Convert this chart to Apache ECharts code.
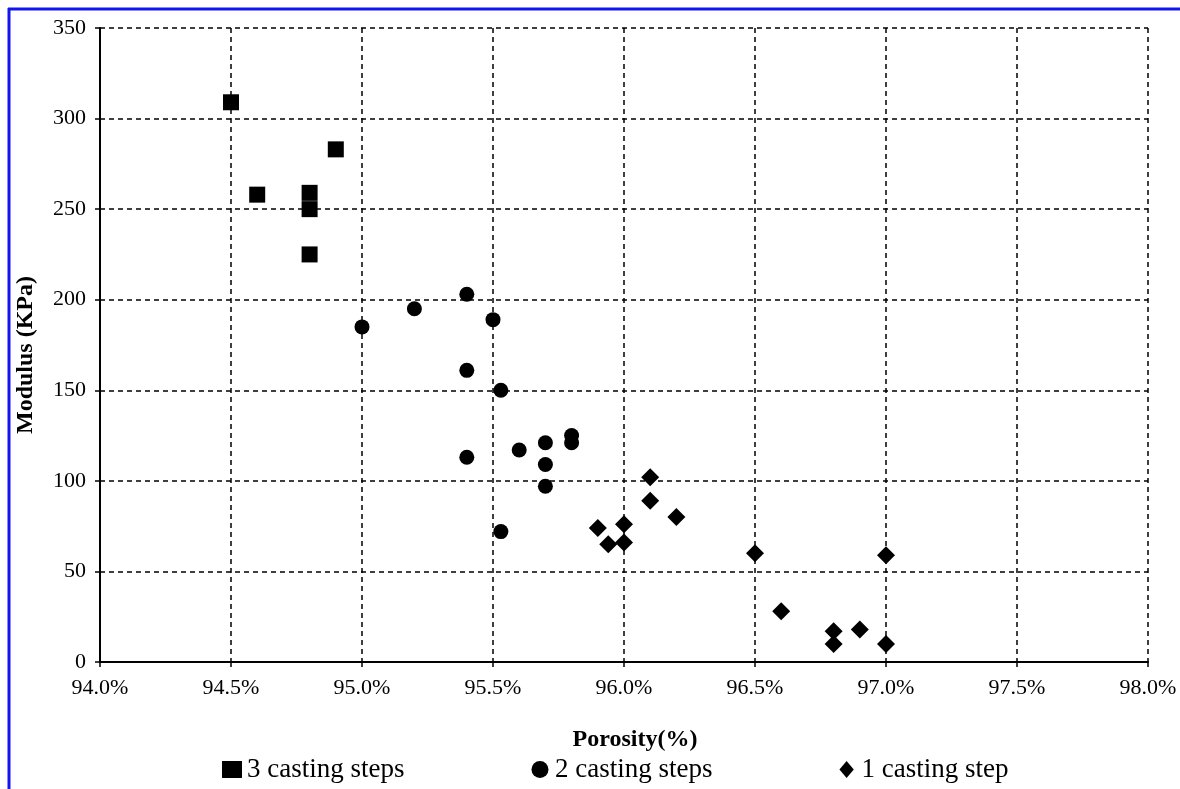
<!DOCTYPE html>
<html lang="en" style="height: 100%">
<head>
<meta charset="utf-8">
<title>Modulus vs Porosity</title>
</head>
<body style="height: 100%; margin: 0; background: #fff">
<div id="container" style="width: 1180px; height: 789px"></div>

<script type="text/javascript" src="https://cdn.jsdelivr.net/npm/echarts@6/dist/echarts.min.js"></script>

<script type="text/javascript">

// [porosity %, modulus KPa]
var threeSteps = [
    [94.5, 309], [94.6, 258], [94.8, 259], [94.8, 250], [94.8, 225], [94.9, 283]
];
var twoSteps = [
    [95.0, 185], [95.2, 195], [95.4, 203], [95.5, 189], [95.4, 161], [95.53, 150],
    [95.4, 113], [95.6, 117], [95.7, 121], [95.7, 109], [95.7, 97], [95.8, 125],
    [95.8, 121], [95.53, 72]
];
var oneStep = [
    [96.1, 102], [96.1, 89], [95.9, 74], [96.0, 76], [95.94, 65], [96.0, 66],
    [96.2, 80], [96.5, 60], [97.0, 59], [96.6, 28], [96.8, 17], [96.8, 10],
    [96.9, 18], [97.0, 10]
];
var seriesNames = ['3 casting steps', '2 casting steps', '1 casting step'];

var font = '"Liberation Serif", "DejaVu Serif", serif';

var dom = document.getElementById('container');
var myChart = echarts.init(dom);

var gridLine = {
    show: true,
    lineStyle: { color: '#000', width: 1.5, type: [5, 4] }
};

var option = {
    backgroundColor: '#fff',
    animation: false,
    textStyle: { fontFamily: font, color: '#000' },
    grid: {
        left: 100,
        right: 32,
        top: 28,
        bottom: 127
    },
    legend: {
        left: 217,
        top: 751,
        itemGap: 127,
        itemWidth: 20,
        itemHeight: 17,
        textStyle: { fontFamily: font, fontSize: 27, color: '#000' },
        data: [
            { name: seriesNames[0], icon: 'rect' },
            { name: seriesNames[1], icon: 'circle' },
            { name: seriesNames[2], icon: 'path://M15,0L31,19L15,38L-1,19Z' }
        ]
    },
    xAxis: {
        type: 'value',
        min: 94,
        max: 98,
        interval: 0.5,
        name: 'Porosity(%)',
        nameLocation: 'middle',
        nameGap: 66,
        nameTextStyle: {
            fontFamily: font, fontSize: 24, fontWeight: 'bold', color: '#000',
            padding: [0, 0, 0, 22]
        },
        axisLine: { show: true, onZero: false, lineStyle: { color: '#000', width: 2 } },
        axisTick: { show: true, inside: false, length: 5, lineStyle: { color: '#000', width: 1.5 } },
        axisLabel: {
            fontFamily: font, fontSize: 22, color: '#000', margin: 15,
            formatter: function (v) { return v.toFixed(1) + '%'; }
        },
        splitLine: gridLine
    },
    yAxis: {
        type: 'value',
        min: 0,
        max: 350,
        interval: 50,
        name: 'Modulus (KPa)',
        nameLocation: 'middle',
        nameGap: 62,
        nameTextStyle: {
            fontFamily: font, fontSize: 24, fontWeight: 'bold', color: '#000',
            padding: [0, 20, 0, 0]
        },
        axisLine: { show: true, lineStyle: { color: '#000', width: 2 } },
        axisTick: { show: true, inside: false, length: 5, lineStyle: { color: '#000', width: 1.5 } },
        axisLabel: { fontFamily: font, fontSize: 22, color: '#000', margin: 14 },
        splitLine: gridLine
    },
    series: [
        {
            name: seriesNames[0],
            type: 'scatter',
            symbol: 'rect',
            symbolSize: 16,
            itemStyle: { color: '#000', opacity: 1 },
            data: threeSteps
        },
        {
            name: seriesNames[1],
            type: 'scatter',
            symbol: 'circle',
            symbolSize: 15,
            itemStyle: { color: '#000', opacity: 1 },
            data: twoSteps
        },
        {
            name: seriesNames[2],
            type: 'scatter',
            symbol: 'diamond',
            symbolSize: 18,
            itemStyle: { color: '#000', opacity: 1 },
            data: oneStep
        }
    ],
    graphic: [
        {
            type: 'line',
            shape: { x1: 9, y1: 8, x2: 9, y2: 789 },
            style: { stroke: '#1414f0', lineWidth: 3 }
        },
        {
            type: 'line',
            shape: { x1: 8, y1: 9, x2: 1180, y2: 9 },
            style: { stroke: '#1414f0', lineWidth: 3 }
        }
    ]
};

myChart.setOption(option);
window.addEventListener('resize', myChart.resize);
</script>
</body>
</html>
